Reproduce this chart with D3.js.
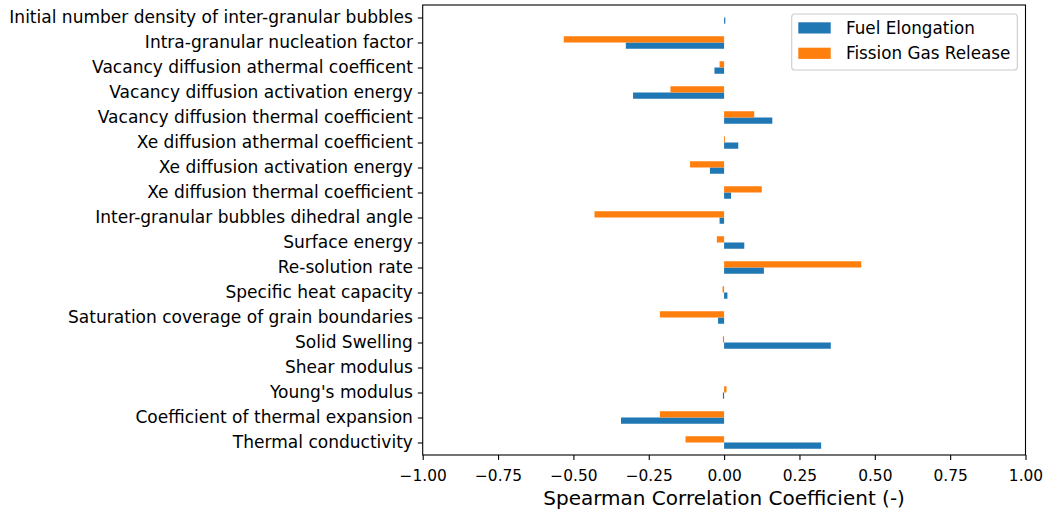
<!DOCTYPE html>
<html><head><meta charset="utf-8">
<script src="https://cdn.jsdelivr.net/npm/d3@7"></script>
<style>body{margin:0;background:#fff}svg{display:block}text{font-family:"DejaVu Sans";fill:#000}</style>
</head><body>
<svg id="c" width="1046" height="515"></svg>
<script>
const categories = ["Thermal conductivity","Coefficient of thermal expansion","Young's modulus","Shear modulus","Solid Swelling","Saturation coverage of grain boundaries","Specific heat capacity","Re-solution rate","Surface energy","Inter-granular bubbles dihedral angle","Xe diffusion thermal coefficient","Xe diffusion activation energy","Xe diffusion athermal coefficient","Vacancy diffusion thermal coefficient","Vacancy diffusion activation energy","Vacancy diffusion athermal coefficent","Intra-granular nucleation factor","Initial number density of inter-granular bubbles"];
const fuelElongation = [0.322,-0.342,-0.004,0,0.354,-0.020,0.011,0.132,0.067,-0.015,0.023,-0.047,0.047,0.160,-0.302,-0.032,-0.326,0.004];
const fissionGasRelease = [-0.128,-0.213,0.008,0,-0.004,-0.213,-0.005,0.455,-0.024,-0.430,0.125,-0.113,0.003,0.100,-0.178,-0.015,-0.532,0];
const xTicks = [-1,-0.75,-0.5,-0.25,0,0.25,0.5,0.75,1];
const seriesNames = ["Fuel Elongation","Fission Gas Release"];
const colors = ["#1f77b4","#ff7f0e"];

const svg = d3.select("#c");
const L=422.7,R=1025.5,T=5,B=455;
const x = d3.scaleLinear().domain([-1,1]).range([L,R]);
const y = d3.scaleLinear().domain([-0.5,categories.length-0.5]).range([B,T]);
const bw = 0.25;
const series=[fuelElongation,fissionGasRelease];
series.forEach((vals,si)=>{
  const off = si===0 ? -0.25 : 0;
  svg.append("g").selectAll("rect").data(vals).join("rect")
    .attr("x",d=>x(Math.min(0,d)))
    .attr("width",d=>Math.abs(x(d)-x(0)))
    .attr("y",(d,i)=>y(i+off+bw))
    .attr("height",(d,i)=>y(i+off)-y(i+off+bw))
    .attr("fill",colors[si]);
});
// axes
const fmt = d=> d3.format(".2f")(d).replace("-","\u2212");
const xa = d3.axisBottom(x).tickValues(xTicks).tickFormat(fmt).tickSize(4.9).tickPadding(4.9);
const gx = svg.append("g").attr("transform",`translate(0,${B})`).call(xa);
const ya = d3.axisLeft(y).tickValues(d3.range(categories.length)).tickFormat(i=>categories[i]).tickSize(4.9).tickPadding(4.9);
const gy = svg.append("g").attr("transform",`translate(${L},0)`).call(ya);
[gx,gy].forEach(g=>{g.select(".domain").remove();g.selectAll("line").attr("stroke","#000").attr("stroke-width",1.1);g.selectAll("text").attr("font-family","DejaVu Sans").attr("fill","#000");});
gy.selectAll("text").attr("font-size",17.05);
gx.selectAll("text").attr("font-size",15.4).attr("dy",null).attr("y",26);
svg.append("rect").attr("x",L).attr("y",T).attr("width",R-L).attr("height",B-T).attr("fill","none").attr("stroke","#000").attr("stroke-width",1.1);
svg.append("text").attr("x",(L+R)/2).attr("y",505).attr("text-anchor","middle").attr("font-size",20).text("Spearman Correlation Coefficient (-)");
// legend
const lg = svg.append("g");
lg.append("rect").attr("x",791.7).attr("y",14).attr("width",225.6).attr("height",56).attr("rx",3).attr("fill","#fff").attr("fill-opacity",0.8).attr("stroke","#ccc").attr("stroke-width",1.1);
seriesNames.forEach((n,i)=>{
  lg.append("rect").attr("x",798.3).attr("y",22.3+i*25.4).attr("width",32.4).attr("height",11.2).attr("fill",colors[i]);
  lg.append("text").attr("x",846).attr("y",34+i*25.4).attr("font-size",16.8).text(n);
});
</script></body></html>
